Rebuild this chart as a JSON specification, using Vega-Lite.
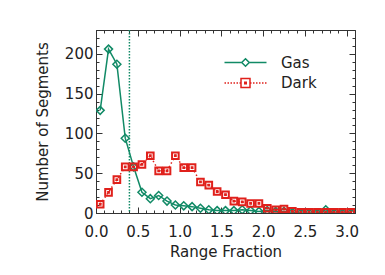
{
  "$schema": "https://vega.github.io/schema/vega-lite/v6.json",
  "width": 259,
  "height": 183,
  "autosize": {"type": "none"},
  "padding": {"left": 96, "top": 30, "right": 30, "bottom": 62},
  "background": "white",
  "config": {
    "view": {"stroke": null},
    "axis": {
      "labelFont": "DejaVu Sans", "labelFontSize": 15, "labelColor": "#222", "labelFlush": false,
      "titleFont": "DejaVu Sans", "titleFontSize": 15, "titleFontWeight": "normal", "titleColor": "#222",
      "domainColor": "#333", "tickColor": "#333", "grid": false, "domainWidth": 1, "tickWidth": 1
    },
    "legend": {
      "labelFont": "DejaVu Sans", "labelFontSize": 15, "labelColor": "#222"
    }
  },
  "data": {
    "values": [
      {"frac": 0.05, "series": "Gas", "count": 129}, {"frac": 0.15, "series": "Gas", "count": 206},
      {"frac": 0.25, "series": "Gas", "count": 187}, {"frac": 0.35, "series": "Gas", "count": 94},
      {"frac": 0.45, "series": "Gas", "count": 58}, {"frac": 0.55, "series": "Gas", "count": 26},
      {"frac": 0.65, "series": "Gas", "count": 18}, {"frac": 0.75, "series": "Gas", "count": 22},
      {"frac": 0.85, "series": "Gas", "count": 15}, {"frac": 0.95, "series": "Gas", "count": 10},
      {"frac": 1.05, "series": "Gas", "count": 9}, {"frac": 1.15, "series": "Gas", "count": 8},
      {"frac": 1.25, "series": "Gas", "count": 6}, {"frac": 1.35, "series": "Gas", "count": 4},
      {"frac": 1.45, "series": "Gas", "count": 3}, {"frac": 1.55, "series": "Gas", "count": 3},
      {"frac": 1.65, "series": "Gas", "count": 3}, {"frac": 1.75, "series": "Gas", "count": 4},
      {"frac": 1.85, "series": "Gas", "count": 3}, {"frac": 1.95, "series": "Gas", "count": 2},
      {"frac": 2.05, "series": "Gas", "count": 3}, {"frac": 2.15, "series": "Gas", "count": 2},
      {"frac": 2.25, "series": "Gas", "count": 2}, {"frac": 2.35, "series": "Gas", "count": 1},
      {"frac": 2.45, "series": "Gas", "count": 0}, {"frac": 2.55, "series": "Gas", "count": 0},
      {"frac": 2.65, "series": "Gas", "count": 0}, {"frac": 2.75, "series": "Gas", "count": 4},
      {"frac": 2.85, "series": "Gas", "count": 0}, {"frac": 2.95, "series": "Gas", "count": 0},
      {"frac": 3.05, "series": "Gas", "count": 0},
      {"frac": 0.05, "series": "Dark", "count": 11}, {"frac": 0.15, "series": "Dark", "count": 26},
      {"frac": 0.25, "series": "Dark", "count": 42}, {"frac": 0.35, "series": "Dark", "count": 58},
      {"frac": 0.45, "series": "Dark", "count": 58}, {"frac": 0.55, "series": "Dark", "count": 61},
      {"frac": 0.65, "series": "Dark", "count": 72}, {"frac": 0.75, "series": "Dark", "count": 53},
      {"frac": 0.85, "series": "Dark", "count": 53}, {"frac": 0.95, "series": "Dark", "count": 72},
      {"frac": 1.05, "series": "Dark", "count": 57}, {"frac": 1.15, "series": "Dark", "count": 57},
      {"frac": 1.25, "series": "Dark", "count": 39}, {"frac": 1.35, "series": "Dark", "count": 35},
      {"frac": 1.45, "series": "Dark", "count": 27}, {"frac": 1.55, "series": "Dark", "count": 23},
      {"frac": 1.65, "series": "Dark", "count": 15}, {"frac": 1.75, "series": "Dark", "count": 14},
      {"frac": 1.85, "series": "Dark", "count": 12}, {"frac": 1.95, "series": "Dark", "count": 12},
      {"frac": 2.05, "series": "Dark", "count": 6}, {"frac": 2.15, "series": "Dark", "count": 4},
      {"frac": 2.25, "series": "Dark", "count": 5}, {"frac": 2.35, "series": "Dark", "count": 2},
      {"frac": 2.45, "series": "Dark", "count": 1}, {"frac": 2.55, "series": "Dark", "count": 1},
      {"frac": 2.65, "series": "Dark", "count": 1}, {"frac": 2.75, "series": "Dark", "count": 1},
      {"frac": 2.85, "series": "Dark", "count": 1}, {"frac": 2.95, "series": "Dark", "count": 1},
      {"frac": 3.05, "series": "Dark", "count": 1}
    ]
  },
  "layer": [
    {
      "data": {"values": [{"frac": 0.4}]},
      "mark": {"type": "rule", "color": "#118a66", "strokeDash": [1.5, 1.5], "strokeWidth": 1.5},
      "encoding": {
        "x": {"field": "frac", "type": "quantitative", "scale": {"domain": [0, 3.1], "nice": false}, "axis": null}
      }
    },
    {
      "transform": [{"filter": "datum.series === 'Gas'"}],
      "mark": {"type": "line", "color": "#118a66", "strokeWidth": 1.5, "clip": true},
      "encoding": {
        "x": {"field": "frac", "type": "quantitative", "scale": {"domain": [0, 3.1], "nice": false},
          "axis": {"orient": "bottom", "values": [0, 0.5, 1, 1.5, 2, 2.5, 3], "format": ".1f", "tickSize": -6, "labelPadding": 17, "title": "Range Fraction", "titlePadding": 5}},
        "y": {"field": "count", "type": "quantitative", "scale": {"domain": [0, 230], "nice": false},
          "axis": {"orient": "left", "values": [0, 50, 100, 150, 200], "tickSize": -6, "labelPadding": 9, "title": "Number of Segments", "titlePadding": 14}}
      }
    },
    {
      "transform": [{"filter": "datum.series === 'Gas'"}],
      "mark": {"type": "point", "shape": "diamond", "size": 64, "filled": false, "strokeWidth": 1.5, "opacity": 1, "clip": true},
      "encoding": {
        "x": {"field": "frac", "type": "quantitative",
          "axis": {"orient": "bottom", "values": [0,0.1,0.2,0.3,0.4,0.5,0.6,0.7,0.8,0.9,1,1.1,1.2,1.3,1.4,1.5,1.6,1.7,1.8,1.9,2,2.1,2.2,2.3,2.4,2.5,2.6,2.7,2.8,2.9,3,3.1], "tickSize": -3, "labels": false, "domain": false, "title": null}},
        "y": {"field": "count", "type": "quantitative",
          "axis": {"orient": "left", "values": [0,10,20,30,40,50,60,70,80,90,100,110,120,130,140,150,160,170,180,190,200,210,220,230], "tickSize": -3, "labels": false, "domain": false, "title": null}},
        "color": {"field": "series", "type": "nominal",
          "scale": {"domain": ["Gas"], "range": ["#118a66"]},
          "legend": {
            "title": null, "orient": "none", "legendX": 142, "legendY": 25,
            "symbolType": "M-4.2,0L-0.75,0M0.75,0L4.2,0M0,-0.75L0.75,0L0,0.75L-0.75,0Z",
            "symbolSize": 100, "symbolStrokeWidth": 1.5, "labelOffset": 28
          }}
      }
    },
    {
      "transform": [{"filter": "datum.series === 'Dark'"}],
      "mark": {"type": "line", "color": "#e0201b", "strokeWidth": 1.5, "strokeDash": [1.5, 2.5], "clip": true},
      "encoding": {
        "x": {"field": "frac", "type": "quantitative",
          "axis": {"orient": "top", "values": [0, 0.5, 1, 1.5, 2, 2.5, 3], "tickSize": -6, "labels": false, "title": null}},
        "y": {"field": "count", "type": "quantitative",
          "axis": {"orient": "right", "values": [0, 50, 100, 150, 200], "tickSize": -6, "labels": false, "title": null}}
      }
    },
    {
      "transform": [{"filter": "datum.series === 'Dark'"}],
      "mark": {"type": "point", "shape": "M-1,-1L1,-1L1,1L-1,1ZM-0.12,-0.12L0.12,-0.12L0.12,0.12L-0.12,0.12Z", "size": 44, "filled": false, "strokeWidth": 2, "opacity": 1, "clip": true},
      "encoding": {
        "x": {"field": "frac", "type": "quantitative",
          "axis": {"orient": "top", "values": [0,0.1,0.2,0.3,0.4,0.5,0.6,0.7,0.8,0.9,1,1.1,1.2,1.3,1.4,1.5,1.6,1.7,1.8,1.9,2,2.1,2.2,2.3,2.4,2.5,2.6,2.7,2.8,2.9,3,3.1], "tickSize": -3, "labels": false, "domain": false, "title": null}},
        "y": {"field": "count", "type": "quantitative",
          "axis": {"orient": "right", "values": [0,10,20,30,40,50,60,70,80,90,100,110,120,130,140,150,160,170,180,190,200,210,220,230], "tickSize": -3, "labels": false, "domain": false, "title": null}},
        "color": {"field": "series", "type": "nominal",
          "scale": {"domain": ["Dark"], "range": ["#e0201b"]},
          "legend": {
            "title": null, "orient": "none", "legendX": 142, "legendY": 45.5,
            "symbolType": "M-4.2,0L-3.9,0M-3.6,0L-3.3,0M-3,0L-2.7,0M-2.4,0L-2.1,0M-1.8,0L-1.5,0M-1.2,0L-0.9,0M0.9,0L1.2,0M1.5,0L1.8,0M2.1,0L2.4,0M2.7,0L3,0M3.3,0L3.6,0M3.9,0L4.2,0M-0.9,-0.9L0.9,-0.9L0.9,0.9L-0.9,0.9ZM-0.15,-0.15L0.15,-0.15L0.15,0.15L-0.15,0.15Z",
            "symbolSize": 100, "symbolStrokeWidth": 1.5, "labelOffset": 28
          }}
      }
    }
  ],
  "resolve": {"axis": {"x": "independent", "y": "independent"}, "scale": {"color": "independent"}, "legend": {"color": "independent"}}
}
